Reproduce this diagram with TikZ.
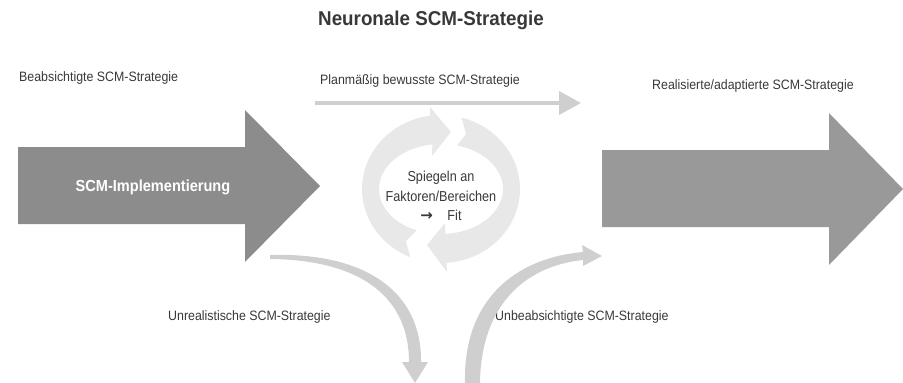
\documentclass[tikz,border=0pt]{standalone}
\usepackage{fontspec}
\setmainfont{Liberation Sans}[FakeStretch=0.91]
\newfontfamily\titlefont{Liberation Sans}[FakeStretch=0.94]
\newfontfamily\ringfont{Liberation Sans}[FakeStretch=0.88]
\newfontfamily\symfont{DejaVu Sans}
\usetikzlibrary{arrows.meta}
\definecolor{bigleft}{gray}{0.55}
\definecolor{bigright}{gray}{0.6}
\definecolor{thingray}{gray}{0.81}
\definecolor{ringgray}{gray}{0.91}
\definecolor{txtgray}{gray}{0.22}
\tikzset{
  lbl/.style={anchor=base west, inner sep=0pt, text=txtgray, font=\fontsize{13.6}{16}\selectfont},
  ringlbl/.style={inner sep=0pt, text=txtgray, font=\ringfont\fontsize{14.4}{19.5}\selectfont, align=center}
}
\begin{document}
\begin{tikzpicture}[x=1pt, y=-1pt]
    \useasboundingbox (0, 0) rectangle (903, 383);

    \node[font=\titlefont\bfseries\fontsize{20}{24}\selectfont, text=txtgray] (titel) at (431, 20) {Neuronale SCM-Strategie};

    \fill[bigleft] (18, 147) -- (245, 147) -- (245, 110) -- (320, 186) -- (245, 262) -- (245, 224) -- (18, 224) -- cycle;
    \node[text=white, font=\bfseries\fontsize{16}{19}\selectfont] (impl) at (153, 187) {SCM-Implementierung};
    \fill[bigright] (602, 150) -- (829, 150) -- (829, 113) -- (903, 189) -- (829, 265) -- (829, 227) -- (602, 227) -- cycle;

    \node[lbl] (beab) at (19, 81) {Beabsichtigte SCM-Strategie};
    \node[lbl] (plan) at (320, 84) {Planmäßig bewusste SCM-Strategie};
    \node[lbl] (real) at (652, 89) {Realisierte/adaptierte SCM-Strategie};
    \node[lbl] (unreal) at (168, 320) {Unrealistische SCM-Strategie};
    \node[lbl] (unbeab) at (495, 320) {Unbeabsichtigte SCM-Strategie};

    \coordinate (planA) at (315, 103);
    \coordinate (planB) at (581, 103);
    \draw[thingray, line width=4pt, -{Triangle[width=23pt, length=22pt]}] (planA) -- (planB);

    \fill[ringgray] plot[domain=-247:-98, samples=40] ({441+79*cos(\x)}, {189+74*sin(\x)})
        -- (430, 107) -- (451, 132) -- (432, 156)
        -- plot[domain=-98:-247, samples=40] ({441+62*cos(\x)}, {189+45*sin(\x)})
        -- (406, 241) -- cycle;
    \fill[ringgray] plot[domain=-75:86, samples=50] ({441+79*cos(\x)}, {189+74*sin(\x)})
        -- (447, 272) -- (427, 245) -- (445, 223)
        -- plot[domain=86:-75, samples=50] ({441+62*cos(\x)}, {189+45*sin(\x)})
        -- (466, 134) -- cycle;
    \node[ringlbl] (spiegeln) at (441, 196) {Spiegeln an\\Faktoren/Bereichen\\{\symfont\bfseries\fontsize{15}{19.5}\selectfont →}\quad Fit};

    \fill[thingray] (270, 255) .. controls (370, 252) and (422, 295) .. (421, 362) -- (428, 362) -- (415, 383) -- (402, 362) -- (409, 362) .. controls (409, 300) and (365, 260) .. (270, 259) -- cycle;
    \fill[thingray] (465, 383) .. controls (463, 300) and (515, 258) .. (583, 252) -- (582, 245) -- (602, 256) -- (583, 266) -- (583, 260) .. controls (525, 266) and (481, 305) .. (480, 383) -- cycle;
\end{tikzpicture}
\end{document}
